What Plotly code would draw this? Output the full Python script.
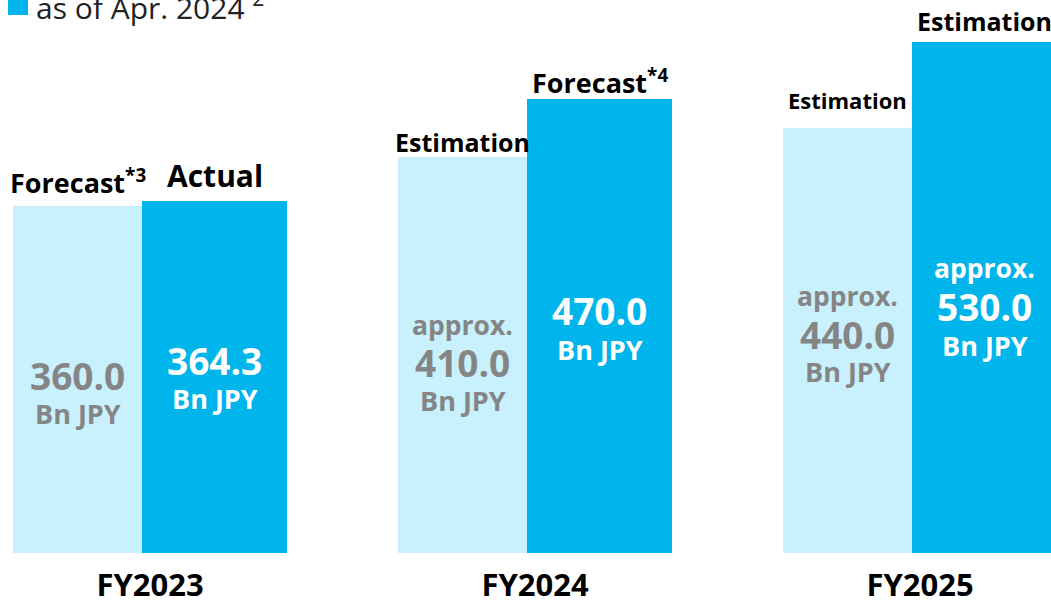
import plotly.graph_objects as go

# ---- data ----
years = ["FY2023", "FY2024", "FY2025"]
prev_values = [360.0, 410.0, 440.0]        # light bars
curr_values = [364.3, 470.0, 530.0]        # dark bars
prev_labels = ["Forecast<sup>*3</sup>", "Estimation", "Estimation"]
curr_labels = ["Actual", "Forecast<sup>*4</sup>", "Estimation"]
prev_approx = [False, True, True]
curr_approx = [False, False, True]
legend_text = "as of Apr. 2024 <sup>2</sup>"

# ---- style / geometry ----
LIGHT = "#C8F0FD"
DARK = "#00B4EC"
GRAY = "#858585"
FONT = "Open Sans"
W, H = 1051, 602
PLOT_H = 553
K = 0.965                       # px per unit
Y_TOP = PLOT_H / K
PX_PER_X = 385.0
X0_PX = 142.0
LW, DW = 0.335, 0.377
xs = list(range(len(years)))

def py2paper(py):
    return 1 - py / PLOT_H

def py2y(py):
    return (PLOT_H - py) / K

fig = go.Figure()
fig.add_trace(go.Bar(x=xs, y=prev_values, width=LW, offset=-LW,
                     marker=dict(color=LIGHT, line=dict(width=0)), hoverinfo="skip"))
fig.add_trace(go.Bar(x=xs, y=curr_values, width=DW, offset=0,
                     marker=dict(color=DARK, line=dict(width=0)), hoverinfo="skip"))

ann = []
# top labels
top_sizes_prev = [27, 25, 22]
top_sizes_curr = [30, 27, 25]
top_shift_prev = [3, -4, 11]
top_shift_curr = [3, -4, 2]
for i in xs:
    ann.append(dict(x=i - LW / 2, y=prev_values[i], text=prev_labels[i], showarrow=False,
                    yanchor="bottom", xanchor="center", yshift=top_shift_prev[i],
                    font=dict(family=FONT, size=top_sizes_prev[i], color="black", weight=700)))
    ann.append(dict(x=i + DW / 2, y=curr_values[i], text=curr_labels[i], showarrow=False,
                    yanchor="bottom", xanchor="center", yshift=top_shift_curr[i],
                    font=dict(family=FONT, size=top_sizes_curr[i], color="black", weight=700)))

# inner labels: (approx line py, number py, unit py)
prev_py = [(None, 375, 413), (325, 362, 400), (296, 334, 371)]
curr_py = [(None, 360, 398), (None, 310, 349), (268, 306, 345)]
for i in xs:
    for vals, pys, xc, col, apx in ((prev_values, prev_py, i - LW / 2, GRAY, prev_approx),
                                    (curr_values, curr_py, i + DW / 2, "white", curr_approx)):
        a, n, u = pys[i]
        if apx[i] and a is not None:
            ann.append(dict(x=xc, y=py2y(a), text="approx.", showarrow=False,
                            font=dict(family=FONT, size=26.5, color=col, weight=700)))
        ann.append(dict(x=xc, y=py2y(n), text=f"{vals[i]:.1f}", showarrow=False,
                        font=dict(family=FONT, size=37, color=col, weight=700)))
        ann.append(dict(x=xc, y=py2y(u), text="Bn JPY", showarrow=False,
                        font=dict(family=FONT, size=27, color=col, weight=700)))

# legend (cut at top)
ann.append(dict(xref="paper", yref="paper", x=34 / W, y=py2paper(6), xanchor="left",
                yanchor="middle", text=legend_text, showarrow=False,
                font=dict(family=FONT, size=30, color="#222222")))
shapes = [dict(type="rect", xref="paper", yref="paper", x0=8 / W, x1=28 / W,
               y0=py2paper(15), y1=py2paper(-6), fillcolor=DARK, line=dict(width=0))]

fig.update_layout(
    width=W, height=H,
    margin=dict(l=0, r=0, t=0, b=H - PLOT_H, autoexpand=False),
    paper_bgcolor="white", plot_bgcolor="white",
    barmode="overlay", bargap=0, showlegend=False,
    annotations=ann, shapes=shapes,
    xaxis=dict(range=[-X0_PX / PX_PER_X, (W - X0_PX) / PX_PER_X],
               tickvals=[i + (DW - LW) / 2 for i in xs], ticktext=years,
               tickfont=dict(family=FONT, size=31, color="black", weight=700),
               showgrid=False, zeroline=False, showline=False, ticks="",
               ticklabelstandoff=11, automargin=False),
    yaxis=dict(range=[0, Y_TOP], visible=False, showgrid=False, zeroline=False,
               automargin=False),
)

fig.write_html("out.html", config={"displayModeBar": False},
               post_script="document.body.style.margin='0';document.body.style.overflow='hidden';")
